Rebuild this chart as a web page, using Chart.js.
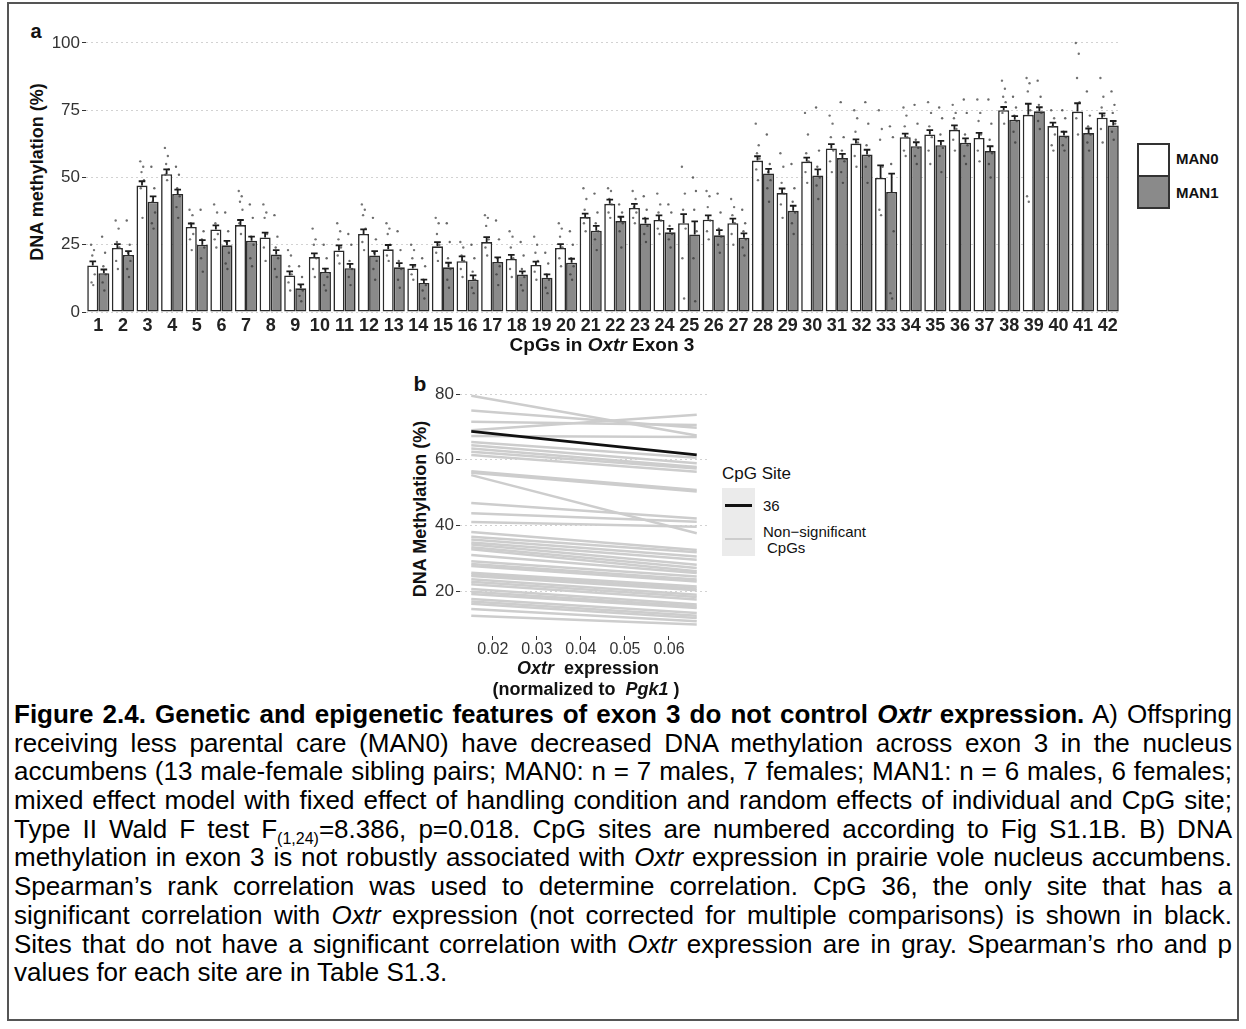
<!DOCTYPE html>
<html>
<head>
<meta charset="utf-8">
<script src="https://cdn.jsdelivr.net/npm/chart.js@4.4.1/dist/chart.umd.min.js"></script>
<style>
  body { margin: 0; background: #fff; }
  #page { position: relative; width: 1246px; height: 1029px; overflow: hidden; font-family: "Liberation Sans", Arial, sans-serif; color: #111; background: #fff; }
  .frame { position: absolute; left: 7px; top: 2px; width: 1232px; height: 1019px; border: 2px solid #555; box-sizing: border-box; }
  canvas { position: absolute; }
  .t { position: absolute; white-space: nowrap; line-height: 1; transform: translate(-50%, -50%); }
  .l { position: absolute; white-space: nowrap; line-height: 1; transform: translateY(-50%); }
  .rot { transform: translate(-50%, -50%) rotate(-90deg); }
  .b { font-weight: bold; }
  .box { position: absolute; box-sizing: border-box; border: 2px solid #333; }
  #caption { position: absolute; left: 14px; top: 700px; width: 1218px; font-size: 26px; line-height: 28.7px; color: #000; }
  #caption div { text-align: justify; text-align-last: justify; }
  #caption div.last { text-align-last: left; }
</style>
</head>
<body>
<div id="page">
  <div class="frame"></div>

  <!-- panel a -->
  <div class="t b" style="left:36px; top:31px; font-size:20px;">a</div>
  <div class="t b rot" style="left:37px; top:172px; font-size:18px;">DNA methylation (%)</div>
  <canvas id="barChart" width="1126" height="320" style="left:0; top:20px;"></canvas>
  <div class="t b" style="left:602px; top:344px; font-size:19px;">CpGs in <i>Oxtr</i> Exon 3</div>
  <div class="box" style="left:1137px; top:143px; width:33px; height:34px; background:#fff;"></div>
  <div class="box" style="left:1137px; top:175px; width:33px; height:34px; background:#8a8a8a;"></div>
  <div class="l b" style="left:1176px; top:158px; font-size:15px;">MAN0</div>
  <div class="l b" style="left:1176px; top:192px; font-size:15px;">MAN1</div>

  <!-- panel b -->
  <div class="t b" style="left:420px; top:383px; font-size:21px;">b</div>
  <div class="t b rot" style="left:420px; top:509px; font-size:18px;">DNA Methylation (%)</div>
  <canvas id="lineChart" width="287" height="290" style="left:425px; top:372px;"></canvas>
  <div class="t b" style="left:588px; top:668px; font-size:18px;"><i>Oxtr</i>&nbsp; expression</div>
  <div class="t b" style="left:586px; top:689px; font-size:18px;">(normalized to&nbsp; <i>Pgk1</i> )</div>
  <div class="l" style="left:722px; top:473px; font-size:17px;">CpG Site</div>
  <div style="position:absolute; left:722px; top:488px; width:33px; height:68px; background:#ebebeb;"></div>
  <div style="position:absolute; left:725px; top:503.5px; width:27px; height:3px; background:#111;"></div>
  <div style="position:absolute; left:725px; top:538px; width:27px; height:2px; background:#cdcdcd;"></div>
  <div class="l" style="left:763px; top:505px; font-size:15px;">36</div>
  <div class="l" style="left:763px; top:531px; font-size:15px;">Non&minus;significant</div>
  <div class="l" style="left:767px; top:547px; font-size:15px;">CpGs</div>

  <div id="caption">
    <div><b>Figure 2.4. Genetic and epigenetic features of exon 3 do not control <i>Oxtr</i> expression.</b> A) Offspring</div>
    <div>receiving less parental care (MAN0) have decreased DNA methylation across exon 3 in the nucleus</div>
    <div>accumbens (13 male-female sibling pairs; MAN0: n = 7 males, 7 females; MAN1: n = 6 males, 6 females;</div>
    <div>mixed effect model with fixed effect of handling condition and random effects of individual and CpG site;</div>
    <div>Type II Wald F test F<sub style="font-size:16px; line-height:0;">(1,24)</sub>=8.386, p=0.018. CpG sites are numbered according to Fig S1.1B. B) DNA</div>
    <div>methylation in exon 3 is not robustly associated with <i>Oxtr</i> expression in prairie vole nucleus accumbens.</div>
    <div>Spearman’s rank correlation was used to determine correlation. CpG 36, the only site that has a</div>
    <div>significant correlation with <i>Oxtr</i> expression (not corrected for multiple comparisons) is shown in black.</div>
    <div>Sites that do not have a significant correlation with <i>Oxtr</i> expression are in gray. Spearman’s rho and p</div>
    <div class="last">values for each site are in Table S1.3.</div>
  </div>
</div>

<script>
// ---- panel a: methylation per CpG site, MAN0 vs MAN1 (mean, mean + SE, individual animals)
const cpgSites = [1,2,3,4,5,6,7,8,9,10,11,12,13,14,15,16,17,18,19,20,21,
                  22,23,24,25,26,27,28,29,30,31,32,33,34,35,36,37,38,39,40,41,42];
const yTicksA = [0, 25, 50, 75, 100];

const man0Mean  = [17.3,23.8,47.0,51.2,31.6,30.7,32.3,27.7,13.6,20.4,22.9,29.0,23.3,16.2,24.4,18.9,26.0,19.7,17.5,23.8,35.3,
                   40.2,38.7,34.2,33.0,34.3,33.0,56.3,44.2,55.9,60.8,62.6,49.8,65.0,66.0,67.7,64.7,75.0,73.3,69.1,74.5,72.2];
const man0Upper = [18.8,25.2,48.6,53.0,32.9,32.2,34.2,29.5,15.1,21.8,24.8,30.7,24.9,17.5,26.0,20.7,27.8,21.2,18.7,25.2,36.6,
                   41.8,40.2,35.9,36.4,35.9,34.7,57.9,45.9,57.4,62.4,64.2,54.5,66.3,67.6,69.4,66.6,76.2,77.4,70.4,77.6,73.8];
const man1Mean  = [14.4,21.2,41.0,43.9,25.0,24.8,26.5,21.4,8.8,14.9,16.3,21.0,16.6,10.8,16.6,12.0,18.6,13.9,12.7,18.3,30.2,
                   33.8,32.9,29.6,28.8,28.5,27.6,51.5,37.6,50.7,57.2,58.5,44.6,61.6,62.0,62.9,59.8,71.5,74.6,65.6,66.5,69.3];
const man1Upper = [15.8,22.6,43.0,45.5,26.7,26.4,28.0,23.0,10.3,16.1,17.9,22.6,18.2,12.0,18.3,13.6,20.3,15.1,14.0,19.8,32.0,
                   35.4,34.7,30.9,33.7,30.4,29.2,53.2,39.5,53.0,58.8,60.3,51.4,63.1,63.6,64.5,61.6,72.8,76.1,67.0,68.2,71.0];

const man0Points = [
  [25,23,21,14,11,10],[34,31,26,24,19,16],[56,54,52,49,46,35],[61,58,55,53,51,49],[38,36,33,29,27,23],
  [40,37,33,29,27,24],[45,43,41,38,33,29],[40,37,35,29,24,19],[23,21,17,14,11,8],[31,27,25,20,16,13],
  [33,30,27,24,21,18],[40,38,36,31,26,23],[33,31,29,25,21,19],[25,23,20,17,14,12],[35,33,29,25,22,19],
  [26,24,21,19,16,13],[36,35,32,27,24,21],[30,28,24,20,16,13],[28,25,22,19,15,12],[33,31,28,24,20,17],
  [46,42,38,35,33,30],[46,45,42,40,37,35],[45,42,39,37,35,33],[44,40,37,34,31,29],[54,44,38,31,20,5],
  [45,43,39,34,30,27],[42,39,36,33,29,25],[70,62,59,57,53,49],[59,54,48,44,40,35],[74,66,59,56,52,48],
  [73,70,65,60,56,52],[75,72,67,63,58,54],[75,68,64,54,38,36],[76,73,69,65,60,58],[78,74,69,65,60,55],
  [77,74,72,68,64,60],[79,74,71,66,60,56],[86,83,80,78,74,70],[87,85,82,75,43,41],[75,72,69,66,62,60],
  [100,96,87,78,72,66],[87,80,76,73,68,63]
];
const man1Points = [
  [28,22,17,14,11,8],[34,25,22,19,16,13],[54,46,41,37,33,31],[54,51,46,43,39,35],[38,30,27,24,20,15],
  [37,30,26,22,18,16],[40,35,28,25,20,17],[36,28,24,20,16,13],[17,13,10,8,6,4],[25,20,16,13,10,8],
  [29,25,19,16,13,10],[35,27,22,19,16,12],[30,23,19,16,12,9],[20,17,12,10,8,5],[33,26,20,16,12,9],
  [25,20,15,12,9,7],[34,27,20,17,14,10],[26,21,16,13,10,8],[22,18,14,12,9,7],[30,25,20,17,14,12],
  [44,37,33,30,27,23],[40,37,35,33,30,24],[43,38,35,32,29,26],[40,37,32,29,27,24],[50,45,38,30,20,4],
  [44,37,31,28,25,22],[38,33,30,27,24,21],[66,55,52,49,46,41],[55,46,41,37,33,29],[76,60,54,50,47,42],
  [78,65,60,56,52,48],[78,70,62,58,54,48],[69,65,55,30,7,5],[77,70,64,61,58,55],[76,72,66,61,58,52],
  [79,74,66,62,58,55],[79,70,64,59,55,50],[80,76,73,71,67,63],[86,80,77,74,71,68],[75,72,67,65,62,60],
  [82,73,69,66,63,60],[82,77,74,70,67,64]
];

// ---- panel b: per-site fits of methylation against Oxtr expression
const exprRange = [0.0151, 0.0663];
const xTicksB = [0.02, 0.03, 0.04, 0.05, 0.06];
const yTicksB = [20, 40, 60, 80];
const site36Line = [68.6, 61.5];
const otherStart = [79.5,75.0,71.6,69.0,67.2,65.4,64.4,63.4,62.4,61.4,56.5,56.0,
                    55.3,46.8,43.7,41.0,
                    38.0,36.5,35.7,34.8,34.2,33.3,32.7,31.0,29.1,28.2,27.6,25.6,25.0,24.6,23.6,22.8,22.1,20.6,19.8,19.1,17.6,16.8,16.1,14.5,12.5];
const otherEnd   = [67.4,69.7,70.6,73.7,66.9,60.6,58.9,57.8,57.3,56.3,50.8,50.3,
                    37.6,42.1,41.1,39.6,
                    32.5,31.8,30.5,29.5,28.0,27.0,26.0,25.5,24.4,23.5,22.9,21.4,20.8,20.2,18.9,18.2,17.4,15.9,15.3,14.8,13.3,12.5,11.8,10.8,9.8];

Chart.defaults.font.family = "'Liberation Sans', Arial, sans-serif";
Chart.defaults.animation = false;

// small horizontal spread for the individual-animal dots inside each bar
const jitter = [-0.07, 0.05, -0.02, 0.08, -0.05, 0.02];
function dots(groupPts, shift) {
  const out = [];
  groupPts.forEach((vals, i) => vals.forEach((v, k) => out.push({ x: cpgSites[i] + shift + jitter[k], y: v })));
  return out;
}
const asXY = vals => vals.map((v, i) => ({ x: cpgSites[i], y: v }));

// upper whisker (mean to mean + SE) with a cap, on top of each bar
const errorBars = {
  id: 'errorBars',
  afterDatasetsDraw(chart) {
    const ctx = chart.ctx, y = chart.scales.y;
    [[0, man0Upper], [1, man1Upper]].forEach(([di, upper]) => {
      chart.getDatasetMeta(di).data.forEach((bar, i) => {
        const top = y.getPixelForValue(upper[i]);
        const half = bar.width * 0.3;
        ctx.save();
        ctx.strokeStyle = '#1c1c1c';
        ctx.lineWidth = 1.8;
        ctx.beginPath();
        ctx.moveTo(bar.x, bar.y);
        ctx.lineTo(bar.x, top);
        ctx.moveTo(bar.x - half, top);
        ctx.lineTo(bar.x + half, top);
        ctx.stroke();
        ctx.restore();
      });
    });
  }
};

new Chart(document.getElementById('barChart'), {
  type: 'bar',
  data: {
    datasets: [
      { label: 'MAN0', data: asXY(man0Mean), backgroundColor: '#ffffff', borderColor: '#2a2a2a', borderWidth: 1.6,
        borderSkipped: false, categoryPercentage: 0.9, barPercentage: 1.0, order: 1 },
      { label: 'MAN1', data: asXY(man1Mean), backgroundColor: '#8a8a8a', borderColor: '#2a2a2a', borderWidth: 1.6,
        borderSkipped: false, categoryPercentage: 0.9, barPercentage: 1.0, order: 1 },
      { type: 'scatter', data: dots(man0Points, -0.225), pointRadius: 1.2, pointBorderWidth: 0,
        pointBackgroundColor: 'rgba(70,70,70,0.75)', order: 0 },
      { type: 'scatter', data: dots(man1Points, 0.225), pointRadius: 1.2, pointBorderWidth: 0,
        pointBackgroundColor: 'rgba(55,55,55,0.75)', order: 0 }
    ]
  },
  options: {
    responsive: false,
    devicePixelRatio: 1,
    events: [],
    layout: { padding: { top: 10, right: 6, left: 0, bottom: 0 } },
    plugins: { legend: { display: false }, tooltip: { enabled: false } },
    scales: {
      x: {
        type: 'linear', min: 0.5, max: 42.5, offset: false,
        afterBuildTicks: s => { s.ticks = cpgSites.map(v => ({ value: v })); },
        grid: { display: false, drawTicks: false }, border: { display: false },
        ticks: { autoSkip: false, maxRotation: 0, padding: 3, color: '#222', font: { size: 18, weight: 'bold' } },
        afterFit: s => { s.height = 28; }
      },
      y: {
        min: 0, max: 104,
        afterBuildTicks: s => { s.ticks = yTicksA.map(v => ({ value: v })); },
        grid: { color: '#d2d2d2', lineWidth: 1, tickColor: '#333', tickLength: 4 },
        border: { display: false, dash: [2, 3] },
        ticks: { padding: 2, color: '#333', font: { size: 17 } },
        afterFit: s => { s.width = 86; }
      }
    }
  },
  plugins: [errorBars]
});

const grayLines = otherStart.map((s, i) => ({
  data: [{ x: exprRange[0], y: s }, { x: exprRange[1], y: otherEnd[i] }],
  borderColor: '#cdcdcd', borderWidth: 2.5, pointRadius: 0, order: 1
}));

new Chart(document.getElementById('lineChart'), {
  type: 'line',
  data: {
    datasets: [
      { data: [{ x: exprRange[0], y: site36Line[0] }, { x: exprRange[1], y: site36Line[1] }],
        borderColor: '#111', borderWidth: 2.8, pointRadius: 0, order: 0 },
      ...grayLines
    ]
  },
  options: {
    responsive: false,
    devicePixelRatio: 1,
    events: [],
    layout: { padding: { top: 10, right: 4, left: 0, bottom: 0 } },
    plugins: { legend: { display: false }, tooltip: { enabled: false } },
    scales: {
      x: {
        type: 'linear', min: 0.01254, max: 0.06886,
        afterBuildTicks: s => { s.ticks = xTicksB.map(v => ({ value: v })); },
        grid: { drawOnChartArea: false, tickColor: '#333', tickLength: 4 },
        border: { display: false },
        ticks: { padding: 0, color: '#333', font: { size: 16 }, callback: v => v.toFixed(2) },
        afterFit: s => { s.height = 26; }
      },
      y: {
        min: 6.3, max: 83,
        afterBuildTicks: s => { s.ticks = yTicksB.map(v => ({ value: v })); },
        grid: { color: '#d2d2d2', lineWidth: 1, tickColor: '#333', tickLength: 4 },
        border: { display: false, dash: [2, 3] },
        ticks: { padding: 2, color: '#333', font: { size: 17 } },
        afterFit: s => { s.width = 35; }
      }
    }
  }
});

// keep every caption line on one row: shrink a line's font only if it would wrap
document.querySelectorAll('#caption div').forEach(el => {
  let size = 26;
  el.style.whiteSpace = 'nowrap';
  while (el.scrollWidth > el.clientWidth && size > 16) {
    size -= 0.25;
    el.style.fontSize = size + 'px';
  }
  el.style.whiteSpace = 'normal';
  el.style.height = '28.7px';
});
</script>
</body>
</html>
